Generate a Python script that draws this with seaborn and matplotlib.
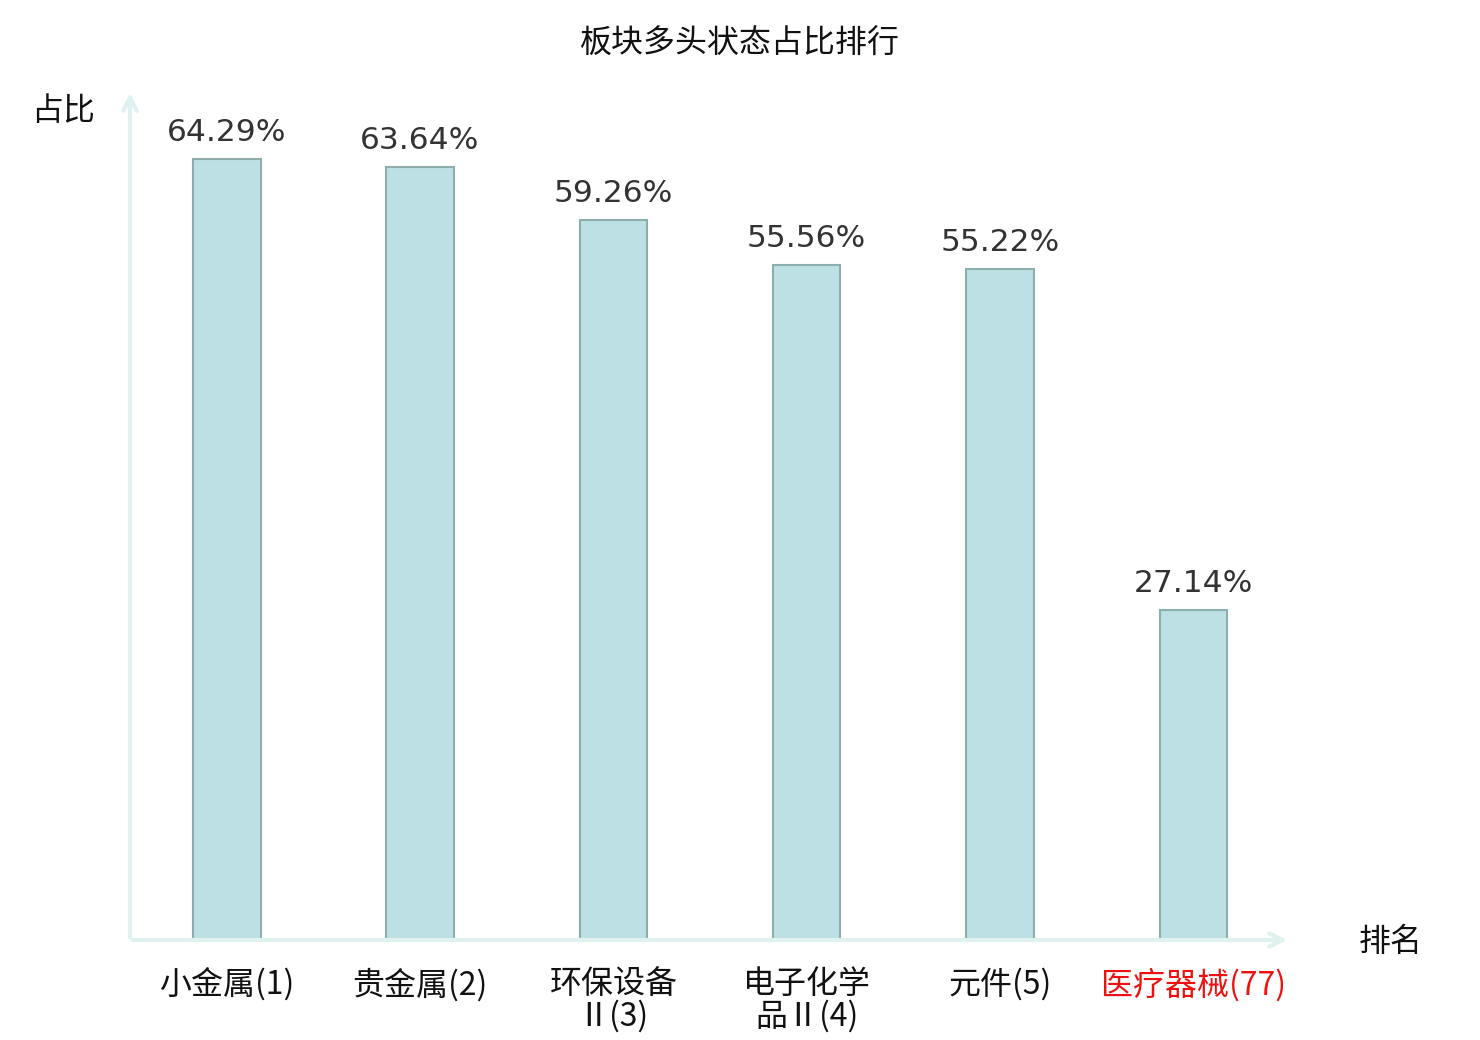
import matplotlib
matplotlib.use("Agg")
import matplotlib.pyplot as plt
import seaborn as sns
import pandas as pd

sectors = ["小金属(1)", "贵金属(2)", "环保设备\nⅡ(3)", "电子化学\n品Ⅱ(4)", "元件(5)", "医疗器械(77)"]
ratios = [64.29, 63.64, 59.26, 55.56, 55.22, 27.14]
highlight = "医疗器械(77)"

BAR = "#bce0e3"
EDGE = "#8eaeae"
AXIS = "#dff2ef"

sns.set_theme(style="white")
plt.rcParams["font.family"] = ["Noto Sans CJK SC", "DejaVu Sans"]

df = pd.DataFrame({"sector": sectors, "ratio": ratios})

fig = plt.figure(figsize=(14.8, 10.4), dpi=100)
ax = fig.add_axes([130 / 1480, 100 / 1040, 1160 / 1480, 850 / 1040])

sns.barplot(data=df, x="sector", y="ratio", ax=ax, color=BAR,
            edgecolor=EDGE, linewidth=1.5, width=0.35, saturation=1)

ax.set_xlim(-0.5, 5.5)
ax.set_ylim(0, 70)
ax.set_yticks([])
ax.set_xlabel("")
ax.set_ylabel("")
for s in ax.spines.values():
    s.set_visible(False)

# axis arrows
ax.annotate("", xy=(0, 1.0), xytext=(0, 0), xycoords="axes fraction",
            arrowprops=dict(arrowstyle="->,head_length=0.8,head_width=0.4",
                            color=AXIS, lw=3))
ax.annotate("", xy=(1.0, 0), xytext=(0, 0), xycoords="axes fraction",
            arrowprops=dict(arrowstyle="->,head_length=0.8,head_width=0.4",
                            color=AXIS, lw=3))

for i, v in enumerate(ratios):
    ax.annotate(f"{v:.2f}%", xy=(i, v), xytext=(0, 9), textcoords="offset points",
                ha="center", va="bottom", fontsize=22.5, color="#333333",
                family="DejaVu Sans")

ax.tick_params(axis="x", length=0, pad=20)
for lbl in ax.get_xticklabels():
    lbl.set_fontsize(23)
    lbl.set_linespacing(1.0)
    lbl.set_verticalalignment("top")
    lbl.set_color("#ee1111" if lbl.get_text() == highlight else "#111111")

fig.text(740 / 1480, 1 - 44 / 1040, "板块多头状态占比排行", ha="center", va="center",
         fontsize=23, color="#111111")
fig.text(63 / 1480, 1 - 111 / 1040, "占比", ha="center", va="center",
         fontsize=23, color="#111111")
fig.text(1391 / 1480, 1 - 942 / 1040, "排名", ha="center", va="center",
         fontsize=23, color="#111111")

fig.savefig("out.png", dpi=100, facecolor="white")
